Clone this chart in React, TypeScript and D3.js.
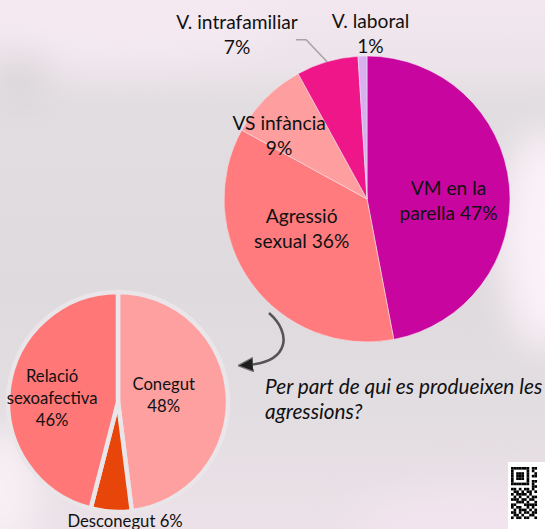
import React from "react";
import * as d3 from "d3";

// Tipus de violència (gràfic principal)
const mainCategories = ["VM en la parella", "Agressió sexual", "VS infància", "V. intrafamiliar", "V. laboral"];
const mainValues = [47, 36, 9, 7, 1];
const mainLabelLines = [
  ["VM en la", "parella 47%"],
  ["Agressió", "sexual 36%"],
  ["VS infància", "9%"],
  ["V. intrafamiliar", "7%"],
  ["V. laboral", "1%"],
];

// Per part de qui (gràfic petit)
const subCategories = ["Conegut", "Desconegut", "Relació sexoafectiva"];
const subValues = [48, 6, 46];
const subLabelLines = [["Conegut", "48%"], ["Desconegut 6%"], ["Relació", "sexoafectiva", "46%"]];

const questionLines = ["Per part de qui es produeixen les", "agressions?"];

const mainColors = ["#c905a0", "#ff7b7d", "#ff9e9f", "#ee1689", "#d8aff0"];
const subColors = ["#ffa0a0", "#e8450a", "#ff7777"];

// label placement: radius fraction + angle tweak (degrees) from the slice middle
const mainLabelPos = [
  { r: 0.57, da: 6 },
  { r: 0.5, da: 12 },
  { r: 0.76, da: -9 },
  { r: 1.47, da: -22 },
  { r: 1.16, da: 3 },
];
const subLabelPos = [
  { r: 0.42, da: -5 },
  { r: 1.08, da: -7 },
  { r: 0.6, da: -4 },
];

const W = 545;
const H = 529;
const FONT = "Lato, 'Open Sans', sans-serif";

const polar = (r: number, a: number) => [r * Math.sin(a), -r * Math.cos(a)];

function Labels({ arcs, lines, pos, R, size, lh }: any) {
  return arcs.map((d: any, i: number) => {
    const mid = (d.startAngle + d.endAngle) / 2 + (pos[i].da * Math.PI) / 180;
    const [x, y] = polar(pos[i].r * R, mid);
    const ls = lines[i];
    return (
      <text key={i} x={x} y={y} textAnchor="middle" fontSize={size} fill="#111" fontFamily={FONT}>
        {ls.map((t: string, j: number) => (
          <tspan key={j} x={x} y={y + (j - (ls.length - 1) / 2) * lh} dominantBaseline="central">
            {t}
          </tspan>
        ))}
      </text>
    );
  });
}

export default function App() {
  const pie = d3.pie<number>().sort(null).value((d) => d);

  // main pie
  const R1 = 143;
  const c1 = [367, 199];
  const arcs1 = pie(mainValues);
  const arc1 = d3.arc<any>().innerRadius(0).outerRadius(R1);

  // small pie
  const R2 = 110;
  const c2 = [118, 402];
  const arcs2 = pie(subValues);
  const arc2 = d3.arc<any>().innerRadius(0).outerRadius(R2);

  // leader line for V. intrafamiliar
  const lf = arcs1[3];
  const lmid = (lf.startAngle + lf.endAngle) / 2;
  const [lx, ly] = polar(R1, lmid);

  const qr = [
    "1111111011",
    "1000001010",
    "1011101001",
    "1011101011",
    "1011101000",
    "1000001011",
    "1111111010",
    "0000000011",
    "1101011010",
    "0110101101",
    "1011110100",
    "0101001011",
    "1110110110",
    "0011101001",
    "1100011111",
    "1011001010",
    "0101110101",
    "1101011011",
    "0110100110",
    "1011011001",
  ];

  return (
    <svg width={W} height={H} style={{ position: "absolute", left: 0, top: 0 }}>
      <defs>
        <linearGradient id="bg" x1="0" y1="0" x2="0" y2="1">
          <stop offset="0" stopColor="#f3e7ef" />
          <stop offset="0.12" stopColor="#ece4ea" />
          <stop offset="0.2" stopColor="#e1dde0" />
          <stop offset="0.55" stopColor="#dedadd" />
          <stop offset="0.8" stopColor="#e3dee2" />
          <stop offset="1" stopColor="#ece1e8" />
        </linearGradient>
        <filter id="blur" x="-50%" y="-50%" width="200%" height="200%">
          <feGaussianBlur stdDeviation="18" />
        </filter>
        <marker id="head" viewBox="0 0 10 10" refX="4" refY="5" markerWidth="6" markerHeight="6" orient="auto">
          <path d="M0,0.5 L10,5 L0,9.5 z" fill="#1e1e1e" stroke="#777" strokeWidth="0.8" />
        </marker>
      </defs>

      {/* background */}
      <rect width={W} height={H} fill="url(#bg)" />
      <g filter="url(#blur)">
        <ellipse cx={545} cy={240} rx={45} ry={110} fill="#fbf1f8" />
        <ellipse cx={0} cy={490} rx={40} ry={60} fill="#f7eff4" />
        <ellipse cx={470} cy={529} rx={120} ry={40} fill="#f2e4ee" />
        <ellipse cx={120} cy={20} rx={160} ry={40} fill="#f4e9f1" />
        <ellipse cx={20} cy={80} rx={30} ry={25} fill="#d9d5d8" />
      </g>

      {/* main pie */}
      <g transform={`translate(${c1[0]},${c1[1]})`}>
        {arcs1.map((d, i) => (
          <path key={mainCategories[i]} d={arc1(d) as string} fill={mainColors[i]} stroke="#f5e6ef" strokeWidth={0.8} strokeOpacity={0.7} />
        ))}
        <polyline
          points={`${lx},${ly} ${lx - 21},${ly - 22} ${lx - 31},${ly - 22}`}
          fill="none"
          stroke="#a6a4a6"
          strokeWidth={1.6}
        />
        <Labels arcs={arcs1} lines={mainLabelLines} pos={mainLabelPos} R={R1} size={19.2} lh={25.5} />
      </g>

      {/* small pie */}
      <g transform={`translate(${c2[0]},${c2[1]})`}>
        {arcs2.map((d, i) => (
          <path key={subCategories[i]} d={arc2(d) as string} fill={subColors[i]} stroke="#e9e5e8" strokeWidth={4.5} strokeLinejoin="round" />
        ))}
        <Labels arcs={arcs2} lines={subLabelLines} pos={subLabelPos} R={R2} size={16.7} lh={22} />
      </g>

      {/* curved arrow */}
      <path d="M269,313 C292,333 290,362 247,365" fill="none" stroke="#555" strokeWidth={2.6} markerEnd="url(#head)" />

      {/* question */}
      <text fontSize={20.8} fontStyle="italic" fill="#111" fontFamily={FONT}>
        {questionLines.map((t, j) => (
          <tspan key={j} x={265} y={385 + j * 25} dominantBaseline="central">
            {t}
          </tspan>
        ))}
      </text>

      {/* QR code corner */}
      <rect x={508} y={462} width={40} height={70} fill="#fff" />
      <g transform="translate(511,467)">
        {qr.map((row, r) =>
          row.split("").map((v, c) =>
            v === "1" ? <rect key={r + "-" + c} x={c * 2.6} y={r * 2.6} width={2.65} height={2.65} fill="#000" /> : null
          )
        )}
      </g>
    </svg>
  );
}
